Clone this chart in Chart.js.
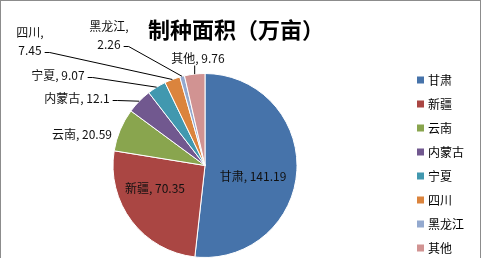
<!DOCTYPE html>
<html>
<head>
<meta charset="utf-8">
<script src="https://cdn.jsdelivr.net/npm/chart.js@4.4.1/dist/chart.umd.min.js"></script>
<style>
  html, body { margin: 0; padding: 0; background: #fff; overflow: hidden; }
  canvas { display: block; }
</style>
</head>
<body>
<canvas id="pie1" width="481" height="258"></canvas>
<script>
  // data
  const regions = ['甘肃', '新疆', '云南', '内蒙古', '宁夏', '四川', '黑龙江', '其他'];
  const areas = [141.19, 70.35, 20.59, 12.1, 9.07, 7.45, 2.26, 9.76];
  const chartTitle = '制种面积（万亩）';

  // style
  const sliceColors = ['#4673AA', '#AA4643', '#89A54E', '#71588F', '#4198AF', '#DB843D', '#93A9CF', '#D19392'];
  const cjkFont = '"Noto Sans CJK SC", "Noto Sans", sans-serif';

  // label spots, offset from the pie centre; leader: how the line is drawn
  const labelSpots = [
    { dx: 48, dy: 11, wrap: false, leader: null },
    { dx: -50, dy: 23, wrap: false, leader: null },
    { dx: -123, dy: -31, wrap: false, leader: null },
    { dx: -128, dy: -67, wrap: false, leader: 'right' },
    { dx: -147, dy: -90, wrap: false, leader: 'right' },
    { dx: -175, dy: -124, wrap: true, leader: 'right' },
    { dx: -96, dy: -130, wrap: true, leader: 'right' },
    { dx: -7, dy: -107, wrap: false, leader: 'bottom' }
  ];

  const decorPlugin = {
    id: 'decor',
    afterDraw(chart) {
      const ctx = chart.ctx;
      const meta = chart.getDatasetMeta(0);
      ctx.save();

      // frame
      ctx.strokeStyle = '#8c8c8c';
      ctx.lineWidth = 1;
      ctx.strokeRect(0.5, 0.5, chart.width - 1, chart.height + 5);

      // title
      ctx.fillStyle = '#000';
      ctx.font = 'bold 22px ' + cjkFont;
      ctx.textAlign = 'center';
      ctx.textBaseline = 'middle';
      ctx.fillText(chartTitle, 236, 30);

      // data labels
      ctx.font = '12px ' + cjkFont;
      meta.data.forEach((arc, i) => {
        const p = arc.getProps(['x', 'y', 'startAngle', 'endAngle', 'outerRadius'], true);
        const mid = (p.startAngle + p.endAngle) / 2;
        const ax = p.x + Math.cos(mid) * p.outerRadius;
        const ay = p.y + Math.sin(mid) * p.outerRadius;
        const spot = labelSpots[i];
        const lines = spot.wrap
          ? [regions[i] + ',', String(areas[i])]
          : [regions[i] + ', ' + areas[i]];
        const tx = p.x + spot.dx;
        const ty = p.y + spot.dy;
        const lineH = 18;
        const y0 = ty - (lines.length - 1) * lineH / 2;
        ctx.fillStyle = '#111';
        lines.forEach((t, k) => ctx.fillText(t, tx, y0 + k * lineH));

        ctx.strokeStyle = '#000';
        ctx.lineWidth = 1;
        if (spot.leader === 'right') {
          const last = lines[lines.length - 1];
          const lx = tx + ctx.measureText(last).width / 2 + 3;
          const ly = y0 + (lines.length - 1) * lineH + 2;
          ctx.beginPath();
          ctx.moveTo(lx, ly);
          ctx.lineTo(lx + 5, ly);
          ctx.lineTo(ax, ay);
          ctx.stroke();
        } else if (spot.leader === 'bottom') {
          ctx.beginPath();
          ctx.moveTo(ax, ty + 7);
          ctx.lineTo(ax, ay);
          ctx.stroke();
        }
      });

      // legend
      ctx.textAlign = 'left';
      ctx.font = '12px ' + cjkFont;
      regions.forEach((name, i) => {
        const ly = 80 + i * 24;
        ctx.fillStyle = sliceColors[i];
        ctx.fillRect(417, ly - 3.5, 7, 7);
        ctx.fillStyle = '#000';
        ctx.fillText(name, 428, ly);
      });
      ctx.restore();
    }
  };

  new Chart(document.getElementById('pie1'), {
    type: 'pie',
    data: {
      labels: regions,
      datasets: [
        { data: areas, backgroundColor: sliceColors, borderColor: '#fff', borderWidth: 1 }
      ]
    },
    options: {
      responsive: false,
      animation: false,
      layout: { padding: { top: 73, bottom: 0, left: 112, right: 183 } },
      plugins: {
        legend: { display: false },
        title: { display: false },
        tooltip: { enabled: false }
      }
    },
    plugins: [decorPlugin]
  });
</script>
</body>
</html>
